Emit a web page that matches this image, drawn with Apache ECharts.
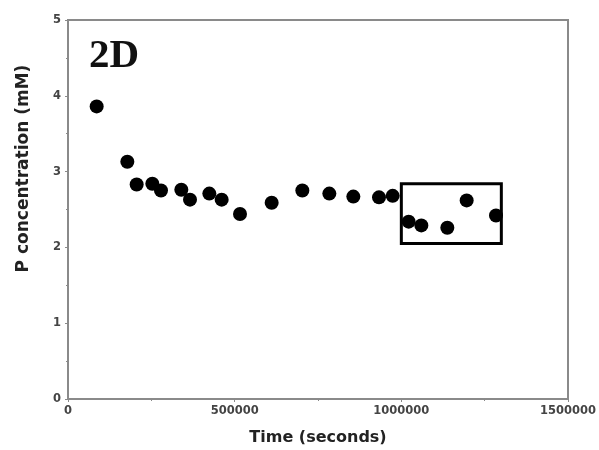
<!DOCTYPE html>
<html>
<head>
<meta charset="utf-8">
<script src="https://cdn.jsdelivr.net/npm/echarts@6/dist/echarts.min.js"></script>
<style>
  html, body { margin: 0; padding: 0; background: #fff; }
  #chart { width: 599px; height: 450px; }
</style>
</head>
<body>
<div id="chart"></div>
<script>
// time points (s) and P concentration (mM)
let timeSec = [86000, 178000, 206000, 253000, 279000, 340000, 366000, 424000, 461000, 516000,
               611000, 703000, 784000, 856000, 933000, 974000,
               1022000, 1060000, 1138000, 1196000, 1284000];
let pConc = [3.86, 3.13, 2.83, 2.84, 2.75, 2.76, 2.63, 2.71, 2.63, 2.44,
             2.59, 2.75, 2.71, 2.67, 2.66, 2.68,
             2.34, 2.29, 2.26, 2.62, 2.42];
// highlighted box (x range, y range)
let boxX = [1000000, 1300000];
let boxY = [2.05, 2.84];
let xTicks = [0, 500000, 1000000, 1500000];
let yTicks = [0, 1, 2, 3, 4, 5];

let points = timeSec.map((t, i) => [t, pConc[i]]);

let chart = echarts.init(document.getElementById('chart'));
let axisGray = '#8a8a8a';
let labelStyle = {
    color: '#444',
    fontFamily: 'DejaVu Sans',
    fontSize: 11.5,
    fontWeight: 'bold',
    formatter: (v) => String(v)
};

let option = {
    animation: false,
    grid: {
        left: 68, right: 31, top: 20, bottom: 51,
        outerBoundsMode: 'none',
        show: true,
        borderColor: axisGray,
        borderWidth: 2
    },
    graphic: [{
        type: 'text',
        left: 89,
        top: 36,
        style: {
            text: '2D',
            font: 'bold 41px "Liberation Serif"',
            fill: '#111'
        }
    }],
    xAxis: {
        type: 'value',
        min: xTicks[0],
        max: xTicks[xTicks.length - 1],
        interval: 500000,
        name: 'Time (seconds)',
        nameLocation: 'middle',
        nameGap: 31,
        nameTextStyle: {
            color: '#222', fontFamily: 'DejaVu Sans', fontSize: 16, fontWeight: 'bold'
        },
        axisLine: { lineStyle: { color: axisGray, width: 2 } },
        axisTick: { length: 3, lineStyle: { color: axisGray } },
        minorTick: { show: true, splitNumber: 2, length: 2, lineStyle: { color: axisGray } },
        axisLabel: Object.assign({ margin: 6 }, labelStyle),
        splitLine: { show: false }
    },
    yAxis: {
        type: 'value',
        min: yTicks[0],
        max: yTicks[yTicks.length - 1],
        interval: 1,
        name: 'P concentration (mM)',
        nameLocation: 'middle',
        nameGap: 36,
        nameTextStyle: {
            color: '#222', fontFamily: 'DejaVu Sans', fontSize: 17, fontWeight: 'bold',
            padding: [0, 0, 0, 82]
        },
        axisLine: { lineStyle: { color: axisGray, width: 2 } },
        axisTick: { length: 3, lineStyle: { color: axisGray } },
        minorTick: { show: true, splitNumber: 2, length: 2, lineStyle: { color: axisGray } },
        axisLabel: Object.assign({ margin: 7 }, labelStyle),
        splitLine: { show: false }
    },
    series: [{
        type: 'scatter',
        data: points,
        symbolSize: 14,
        itemStyle: { color: '#000', opacity: 1 },
        markArea: {
            silent: true,
            itemStyle: {
                color: 'rgba(0,0,0,0)',
                borderColor: '#000',
                borderWidth: 3
            },
            data: [[
                { coord: [boxX[0], boxY[1]] },
                { coord: [boxX[1], boxY[0]] }
            ]]
        }
    }]
};
chart.setOption(option);
</script>
</body>
</html>
